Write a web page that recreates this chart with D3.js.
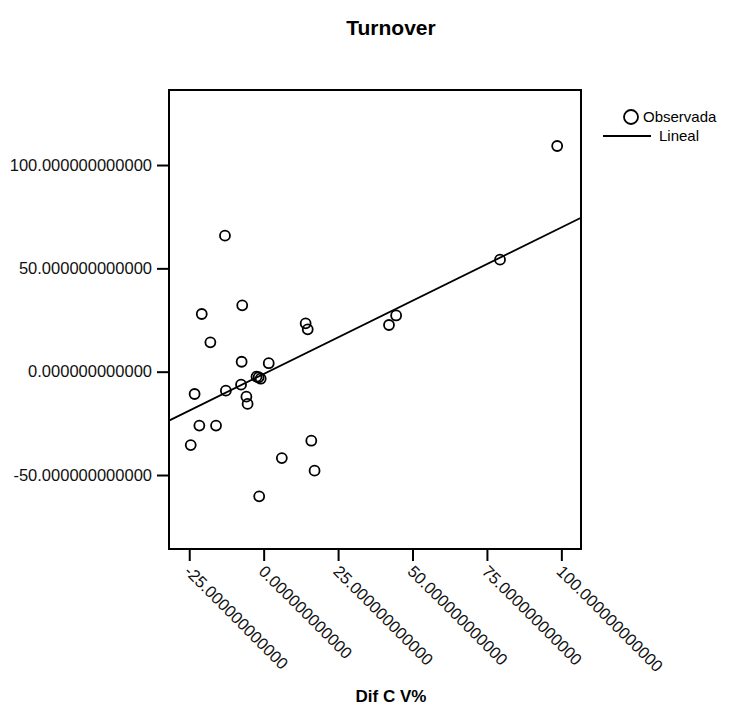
<!DOCTYPE html>
<html>
<head>
<meta charset="utf-8">
<script src="https://cdn.jsdelivr.net/npm/d3@7"></script>
<style>
  html, body { margin: 0; padding: 0; background: #fff; }
  svg { display: block; font-family: "Liberation Sans", Arial, sans-serif; }
</style>
</head>
<body>
<svg id="chart" width="741" height="707"></svg>
<script>
// Observed cases: Dif C V% (x) against Turnover (y)
const difCV = [
  -20.8, -7.2, -17.9, 14.1, 14.8, -7.4, 1.7, -2.4, -1.7, -1.0,
  -23.2, -12.7, -7.6, -5.8, -5.4, -21.6, -16.0, -24.5, 16.0, 6.1,
  17.1, -1.5, -13.0, 98.6, 79.4, 44.5, 42.1
];
const turnover = [
  27.9, 32.1, 14.2, 23.4, 20.5, 4.8, 4.1, -2.4, -2.7, -3.4,
  -10.8, -9.2, -6.3, -12.1, -15.6, -26.1, -26.1, -35.5, -33.4, -41.8,
  -47.9, -60.3, 65.8, 109.2, 54.2, 27.2, 22.6
];
const xTicks = [-25, 0, 25, 50, 75, 100];
const yTicks = [-50, 0, 50, 100];
const xDomain = [-31.8, 106.6];
const yDomain = [-85.8, 136.3];

const svg = d3.select("#chart");
const plotLeft = 169, plotRight = 581, plotTop = 90, plotBottom = 549;

const x = d3.scaleLinear().domain(xDomain).range([plotLeft, plotRight]);
const y = d3.scaleLinear().domain(yDomain).range([plotBottom, plotTop]);
// Twelve decimals with a plain hyphen for negatives
const fmt = d => d.toFixed(12);

// Least-squares linear fit
const n = difCV.length;
const mx = d3.mean(difCV), my = d3.mean(turnover);
let sxy = 0, sxx = 0;
for (let i = 0; i < n; i++) {
  sxy += (difCV[i] - mx) * (turnover[i] - my);
  sxx += (difCV[i] - mx) ** 2;
}
const slope = sxy / sxx;
const intercept = my - slope * mx;

// Title
svg.append("text")
  .attr("x", 391).attr("y", 35)
  .attr("text-anchor", "middle")
  .attr("font-size", 21).attr("font-weight", "bold")
  .text("Turnover");

// Y axis
const yAxis = svg.append("g")
  .attr("transform", `translate(${plotLeft},0)`)
  .call(d3.axisLeft(y).tickValues(yTicks).tickSize(12).tickPadding(5).tickFormat(fmt));
yAxis.select(".domain").remove();
yAxis.selectAll(".tick line").attr("stroke", "#000").attr("stroke-width", 2);
yAxis.selectAll(".tick text").attr("font-size", 16.5).attr("fill", "#111")
  .attr("font-family", "\"Liberation Sans\", Arial, sans-serif");

// X axis with slanted labels
const xAxis = svg.append("g")
  .attr("transform", `translate(0,${plotBottom})`)
  .call(d3.axisBottom(x).tickValues(xTicks).tickSize(12).tickFormat(fmt));
xAxis.select(".domain").remove();
xAxis.selectAll(".tick line").attr("stroke", "#000").attr("stroke-width", 2);
xAxis.selectAll(".tick text")
  .attr("font-size", 16.5).attr("fill", "#111")
  .attr("font-family", "\"Liberation Sans\", Arial, sans-serif")
  .attr("text-anchor", "start")
  .attr("x", 0).attr("y", 0).attr("dy", "0.72em")
  .attr("transform", "translate(2,15) rotate(45)");

// Plot frame
svg.append("rect")
  .attr("x", plotLeft).attr("y", plotTop)
  .attr("width", plotRight - plotLeft).attr("height", plotBottom - plotTop)
  .attr("fill", "none").attr("stroke", "#000").attr("stroke-width", 2);

// Fitted line across the frame
svg.append("line")
  .attr("x1", x(xDomain[0])).attr("y1", y(intercept + slope * xDomain[0]))
  .attr("x2", x(xDomain[1])).attr("y2", y(intercept + slope * xDomain[1]))
  .attr("stroke", "#000").attr("stroke-width", 1.8);

// Observed points
svg.append("g").selectAll("circle")
  .data(difCV.map((d, i) => [d, turnover[i]]))
  .join("circle")
  .attr("cx", d => x(d[0])).attr("cy", d => y(d[1]))
  .attr("r", 5)
  .attr("fill", "none").attr("stroke", "#000").attr("stroke-width", 1.8);

// Legend
const legend = svg.append("g").attr("font-size", 15);
legend.append("circle").attr("cx", 631).attr("cy", 117).attr("r", 7)
  .attr("fill", "none").attr("stroke", "#000").attr("stroke-width", 1.8);
legend.append("text").attr("x", 643).attr("y", 117).attr("dy", "0.35em").text("Observada");
legend.append("line").attr("x1", 603).attr("x2", 651).attr("y1", 136).attr("y2", 136)
  .attr("stroke", "#000").attr("stroke-width", 1.8);
legend.append("text").attr("x", 659).attr("y", 136).attr("dy", "0.35em").text("Lineal");

// X axis title
svg.append("text")
  .attr("x", 391).attr("y", 702)
  .attr("text-anchor", "middle")
  .attr("font-size", 17).attr("font-weight", "bold")
  .text("Dif C V%");
</script>
</body>
</html>
